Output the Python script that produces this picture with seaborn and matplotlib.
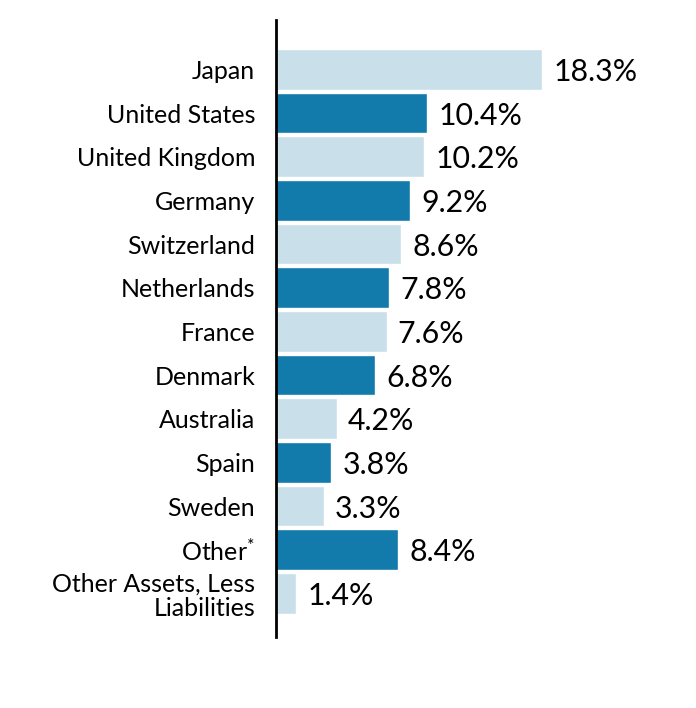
import matplotlib
matplotlib.use("Agg")
import matplotlib.pyplot as plt
import seaborn as sns

# country allocation (% of net assets)
countries = ["Japan", "United States", "United Kingdom", "Germany", "Switzerland",
             "Netherlands", "France", "Denmark", "Australia", "Spain", "Sweden",
             "Other$^{*}$", "Other Assets, Less\nLiabilities"]
weights = [18.3, 10.4, 10.2, 9.2, 8.6, 7.8, 7.6, 6.8, 4.2, 3.8, 3.3, 8.4, 1.4]
value_labels = ["18.3%", "10.4%", "10.2%", "9.2%", "8.6%", "7.8%", "7.6%",
                "6.8%", "4.2%", "3.8%", "3.3%", "8.4%", "1.4%"]

light = "#c9e0ea"
dark = "#127bac"
bar_colors = [light if i % 2 == 0 else dark for i in range(len(countries))]

sns.set_style("white")
plt.rcParams['font.family'] = ['Lato', 'DejaVu Sans']
plt.rcParams['mathtext.fontset'] = 'custom'
plt.rcParams['mathtext.rm'] = 'Lato'
plt.rcParams['mathtext.it'] = 'Lato'

fig = plt.figure(figsize=(6.96, 7.08), dpi=100)
ax = fig.add_axes([276 / 696, (708 - 637) / 708, 420 / 696, (637 - 20) / 708])

sns.barplot(x=weights, y=countries, hue=countries, palette=bar_colors,
            legend=False, orient="h", width=0.93, ax=ax, saturation=1)

for cont, lab in zip(ax.containers, value_labels):
    txts = ax.bar_label(cont, labels=[lab], padding=8, fontsize=21.8, color="black")
    for t in txts:
        t.set_va("center_baseline")

ax.set_xlim(0, 420 / 14.54)
ax.set_ylim(13.0, -1.13)
ax.set_xlabel("")
ax.set_ylabel("")
ax.set_xticks([])
ax.tick_params(axis="y", length=0, pad=15, labelsize=18, labelcolor="black")
for t in ax.get_yticklabels():
    t.set_linespacing(1.1)

sns.despine(ax=ax, top=True, right=True, bottom=True, left=False)
ax.spines["left"].set_color("black")
ax.spines["left"].set_linewidth(2)

fig.savefig("out.png", dpi=100, facecolor="white")
